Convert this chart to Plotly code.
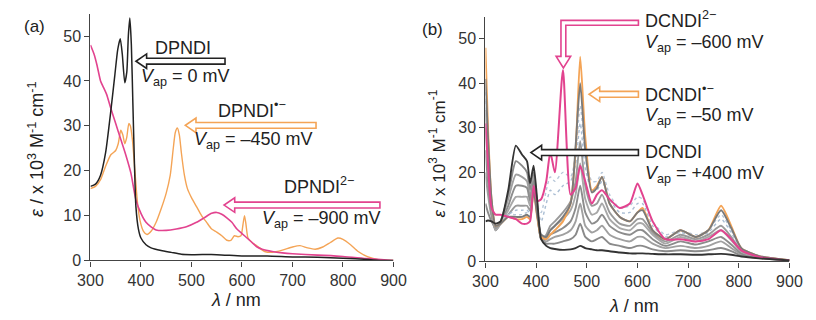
import plotly.graph_objects as go

W, H = 816, 320

# ---------------- Panel (a) data ----------------
wl_a_neutral = [300, 310, 320, 330, 340, 348, 354, 359, 363, 368, 372, 375, 378, 381, 384, 387, 390, 395, 400,
                410, 420, 440, 460, 480, 500, 550, 600, 650, 700, 750, 800, 850, 880, 900]
eps_a_neutral = [16.5, 17, 19, 24, 33, 41, 47, 49.4, 46, 39.6, 42, 50, 54, 48, 35, 22, 12, 7, 5,
                 3.5, 2.8, 2.2, 1.8, 1.4, 1.3, 1.3, 1.0, 1.0, 0.8, 0.7, 0.5, 0.2, 0, 0]

wl_a_radical = [300, 310, 320, 330, 340, 345, 350, 355, 360, 364, 368, 372, 376, 379, 383, 388, 393, 398, 405,
                412, 420, 430, 440, 450, 458, 464, 468, 472, 476, 480, 486, 492, 500, 510, 520, 530, 540, 550,
                560, 570, 578, 585, 592, 598, 602, 605, 608, 612, 620, 630, 645, 660, 680, 700, 715, 730, 745,
                760, 775, 790, 800, 815, 830, 850, 870, 900]
eps_a_radical = [16, 16.5, 18, 21, 23.5, 24, 24.5, 26, 29, 28, 26, 27.5, 30.5, 30, 27, 20, 13, 9, 6.5,
                 5.8, 6.5, 8.5, 11.5, 15, 19, 25, 28.5, 29.5, 28, 24, 19, 16, 14, 12, 10, 8.5, 7, 6.3,
                 5.5, 4.5, 4.5, 5.5, 5.3, 5.5, 8, 10, 8, 5, 4, 3.2, 2, 1.8, 2.3, 3, 3.3, 2.8, 2.5,
                 3, 4, 5, 4.7, 3.5, 2, 0.8, 0.2, 0]

wl_a_dianion = [300, 307, 313, 320, 326, 332, 340, 350, 360, 370, 380, 390, 400, 410, 420, 430, 450, 470, 490,
                510, 525, 540, 550, 560, 570, 580, 590, 600, 610, 620, 630, 640, 660, 680, 700, 750, 800, 850, 900]
eps_a_dianion = [48, 46, 43.5, 40, 38.5, 37, 34, 30.5, 27, 23.5, 19.5, 13.5, 10.5, 8.5, 7.5, 6.8, 6.7, 7, 7.5,
                 8.5, 9.5, 10.5, 10.7, 10.3, 9.5, 8.5, 7, 6, 5, 4, 3, 2.5, 2, 1.7, 1.5, 1.2, 0.9, 0.4, 0]

# ---------------- Panel (b) data ----------------
wl_b = [300, 305, 312, 320, 330, 345, 360, 372, 382, 388, 395, 402, 410, 420, 428, 437, 453, 468, 478, 487,
        497, 510, 520, 530, 545, 565, 585, 600, 610, 630, 655, 685, 715, 740, 765, 785, 805, 840, 900]

eps_b_neutral = [9, 9.2, 9, 8.5, 9, 16, 26, 24, 22.5, 17.5, 21.5, 14, 5, 3.5, 3, 2.8, 2.6, 2.7, 3, 3.5,
                 3, 2.7, 2.5, 2.5, 2.3, 2, 1.8, 1.8, 1.8, 1.7, 1.6, 1.6, 1.5, 1.6, 1.7, 1.5, 1.1, 0.7, 0.2]
eps_b_g1 = [13, 11, 9, 7.5, 9, 15, 22.5, 21.5, 20, 16, 20, 13, 5, 4, 4, 4, 4.5, 5, 6, 8.5,
            5.5, 4.5, 5, 5.5, 4, 3.5, 3, 3.5, 3.5, 2.7, 2.3, 2.5, 2.3, 2.5, 3, 2.3, 1.3, 0.8, 0.2]
eps_b_g2 = [20, 15, 10, 7, 9, 14, 19.5, 19, 18, 14.5, 19, 12.5, 5, 4.5, 5, 5.5, 6, 7, 9, 13,
            8, 6.5, 7, 8, 6, 5, 4.5, 5.5, 5.5, 4, 3, 3.5, 3, 3.5, 4.5, 3, 1.6, 0.8, 0.2]
eps_b_g3 = [25, 18, 11, 7, 8.5, 12.5, 17, 17, 16.5, 13.5, 18, 12, 5, 5, 6, 6.5, 7.5, 9, 12, 17,
            11, 8.5, 9, 10.5, 8, 6.5, 6, 7, 7, 5, 3.5, 4.5, 3.8, 4.5, 5.5, 3.8, 1.8, 0.9, 0.2]
eps_b_g4 = [30, 21, 12, 7, 8.5, 11.5, 14.5, 14.5, 14.5, 12.5, 17, 11.5, 5, 5.5, 7, 8, 9.5, 11.5, 15, 22,
            14, 10.5, 11, 13, 9.5, 7.5, 7, 8.5, 8.5, 6, 4, 5.5, 4.5, 5.5, 7, 4.8, 2.2, 1, 0.2]
eps_b_g5 = [34, 24, 13, 7.5, 8.5, 10.5, 12.5, 12.5, 12.5, 11.5, 16.5, 11, 5, 6, 8, 9, 11, 13.5, 18, 27,
            17, 12.5, 13, 15, 11, 8.5, 8, 9.5, 9.5, 6.5, 4.5, 6, 5, 6, 8, 5.5, 2.5, 1.1, 0.2]
eps_b_d1 = [36, 25, 13, 8, 9, 10.5, 11.5, 11.5, 11.5, 11, 16, 12, 9, 13, 16, 15, 17, 18, 22, 31,
            21, 16, 16, 18, 14, 11, 11, 13, 13, 8, 5.5, 6.5, 5.5, 6.5, 9.5, 6.5, 2.8, 1.2, 0.3]
eps_b_d2 = [38, 27, 13.5, 8, 9, 10.5, 10.5, 10.5, 11, 10.5, 16, 12.5, 11, 16, 19, 18, 20, 19, 24, 35,
            24, 18, 18, 20, 15, 12, 12.5, 14.5, 14, 9, 6, 7, 6, 7, 10.5, 7, 3, 1.3, 0.3]
eps_b_g6 = [41, 28, 14, 8, 8.5, 10, 10, 10, 10.5, 10, 16, 10.5, 6, 5.5, 7, 8, 10, 13, 26, 40,
            25, 15.5, 16.5, 19, 13, 10, 9, 11, 11.5, 7, 5, 7, 5.5, 7, 11.5, 7.5, 3, 1.2, 0.3]
eps_b_radical = [48, 30, 14, 8, 8.5, 10, 9.5, 9.5, 10, 9.5, 16, 10, 5.5, 5, 6, 7, 9, 13, 25, 46,
                 28, 16, 17, 19, 13, 10, 9, 11, 12, 7, 5, 7, 5.5, 7, 12.5, 8, 3, 1.2, 0.3]
eps_b_dianion = [31, 22, 12, 10.5, 10.5, 10, 9.5, 8.5, 8.5, 9, 17, 13.5, 14, 18, 24.5, 20, 43, 15, 16.5, 21.5,
                 18, 13, 15, 16, 14, 12, 13, 17.5, 15, 9, 5, 5, 4.5, 5, 7, 5, 2.5, 1, 0.2]

x_ticks = [300, 400, 500, 600, 700, 800, 900]
y_ticks = [0, 10, 20, 30, 40, 50]

BLACK = "#222222"
ORANGE = "#f4a456"
MAGENTA = "#e2438f"
FONT = "Liberation Sans, Arial, sans-serif"
TXT = "#222222"

fig = go.Figure()

def line(x, y, color, width, xa, ya, dash="solid"):
    fig.add_trace(go.Scatter(x=x, y=y, mode="lines", xaxis=xa, yaxis=ya,
                             line=dict(color=color, width=width, dash=dash, shape="spline", smoothing=0.6),
                             showlegend=False, hoverinfo="skip"))

# panel a
line(wl_a_radical, eps_a_radical, ORANGE, 1.4, "x", "y")
line(wl_a_dianion, eps_a_dianion, MAGENTA, 1.6, "x", "y")
line(wl_a_neutral, eps_a_neutral, BLACK, 1.5, "x", "y")

# panel b
line(wl_b, eps_b_g1, "#8a8a8a", 1.9, "x2", "y2")
line(wl_b, eps_b_g2, "#a0a0a0", 1.9, "x2", "y2")
line(wl_b, eps_b_g3, "#8c8c8c", 1.9, "x2", "y2")
line(wl_b, eps_b_g4, "#a8a8a8", 1.9, "x2", "y2")
line(wl_b, eps_b_g5, "#9a9a9a", 1.9, "x2", "y2")
line(wl_b, eps_b_d1, "#a9bdd3", 1.4, "x2", "y2", "dot")
line(wl_b, eps_b_d2, "#b6c6d8", 1.4, "x2", "y2", "dot")
line(wl_b, eps_b_radical, ORANGE, 1.9, "x2", "y2")
line(wl_b, eps_b_g6, "#7a7a7a", 1.9, "x2", "y2")
line(wl_b, eps_b_dianion, MAGENTA, 2.0, "x2", "y2")
line(wl_b, eps_b_neutral, "#333333", 1.9, "x2", "y2")

def px(x):
    return x / W

def py(y):
    return 1 - y / H

ax_common = dict(showgrid=False, zeroline=False, showline=True, linecolor="#444", linewidth=1.4,
                 ticks="outside", ticklen=5, tickwidth=1.2, tickcolor="#444",
                 tickfont=dict(family=FONT, size=16, color="#333"), mirror=False)

fig.update_layout(
    width=W, height=H, autosize=False,
    margin=dict(l=0, r=0, t=0, b=0),
    paper_bgcolor="white", plot_bgcolor="white",
    xaxis=dict(domain=[px(80), px(393)], range=[300, 900], tickvals=x_ticks, anchor="y", **ax_common),
    yaxis=dict(domain=[py(268), py(14)], range=[0, 55], tickvals=y_ticks, anchor="x", **ax_common),
    xaxis2=dict(domain=[px(488), px(802)], range=[300, 900], tickvals=x_ticks, anchor="y2", **ax_common),
    yaxis2=dict(domain=[py(269), py(17)], range=[0, 55], tickvals=y_ticks, anchor="x2", **ax_common),
)

def ann(text, x, y, size=18, xanchor="left", angle=0):
    fig.add_annotation(text=text, x=px(x), y=py(y), xref="paper", yref="paper",
                       xanchor=xanchor, yanchor="middle", showarrow=False, textangle=angle,
                       borderpad=0, font=dict(family=FONT, size=size, color=TXT))

VAP = "<i>V</i><sub>ap</sub>"
ann("(a)", 10, 27, 17)
ann("(b)", 421, 30, 17)
ann("<i>ε</i> / x 10<sup>3</sup> M<sup>-1</sup> cm<sup>-1</sup>", 24, 154, 18, "center", -90)
ann("<i>ε</i> / x 10<sup>3</sup> M<sup>-1</sup> cm<sup>-1</sup>", 438, 158, 17, "center", -90)
ann("<i>λ</i> / nm", 230, 309, 18, "center")
ann("<i>λ</i> / nm", 641, 315, 18, "center")

ann("DPNDI", 176, 49, 18, "center")
ann(VAP + " = 0 mV", 131, 80, 18)
ann("DPNDI<sup>•−</sup>", 211, 113, 18)
ann(VAP + " = –450 mV", 186, 145, 18)
ann("DPNDI<sup>2−</sup>", 279, 191, 18)
ann(VAP + " = –900 mV", 256, 226, 18)

ann("DCNDI<sup>2−</sup>", 652, 20, 18)
ann(VAP + " = –600 mV", 652, 45, 18)
ann("DCNDI<sup>•−</sup>", 652, 96, 18)
ann(VAP + " = –50 mV", 652, 120, 18)
ann("DCNDI", 652, 156, 18)
ann(VAP + " = +400 mV", 652, 180, 18)

def to_path(points):
    return "M " + " L ".join(f"{px(a):.5f},{py(b):.5f}" for a, b in points) + " Z"

def left_arrow(x_tail, x_tip, y, bh=3, hh=7.5, hl=11):
    return [(x_tail, y - bh), (x_tip + hl, y - bh), (x_tip + hl, y - hh), (x_tip, y),
            (x_tip + hl, y + hh), (x_tip + hl, y + bh), (x_tail, y + bh)]

def add_arrow(points, color):
    fig.add_shape(type="path", path=to_path(points), xref="paper", yref="paper",
                  line=dict(color=color, width=1.6), fillcolor="white", layer="above")

add_arrow(left_arrow(219, 127, 63), BLACK)
add_arrow(left_arrow(313, 178, 129), ORANGE)
add_arrow(left_arrow(379, 218, 211), MAGENTA)
add_arrow(left_arrow(646, 595, 97), ORANGE)
add_arrow(left_arrow(646, 535, 157), BLACK)
# bent arrow (panel b, dianion)
bent = [(646, 21), (566, 21), (566, 58), (561, 58), (568.5, 70), (576, 58), (571, 58),
        (571, 26), (646, 26)]
add_arrow(bent, MAGENTA)

fig.write_html("out.html")
